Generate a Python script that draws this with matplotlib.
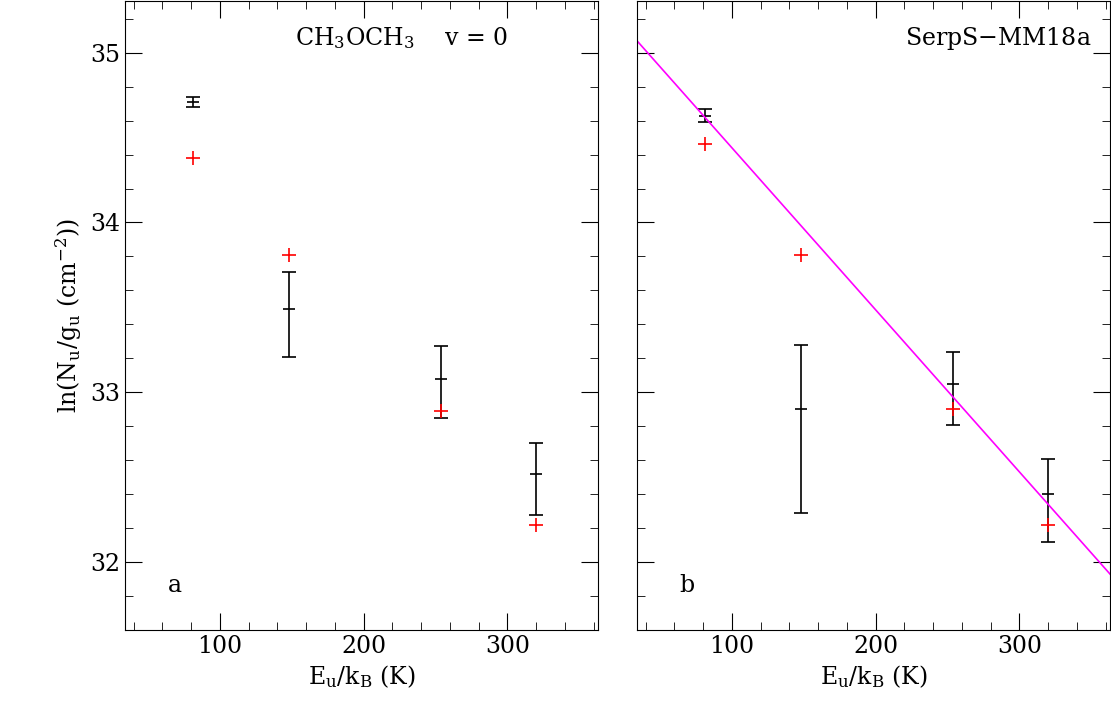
import matplotlib
matplotlib.use("Agg")
import matplotlib.pyplot as plt
from matplotlib.ticker import MultipleLocator

plt.rcParams['font.family'] = 'DejaVu Serif'
plt.rcParams['mathtext.fontset'] = 'dejavuserif'

# energies (K)
eu = [81, 148, 254, 320]

# panel a
obs_a = [34.71, 33.49, 33.08, 32.52]
lo_a = [34.68, 33.21, 32.85, 32.28]
hi_a = [34.74, 33.71, 33.27, 32.70]
mod_a = [34.38, 33.81, 32.89, 32.22]

# panel b
obs_b = [34.63, 32.90, 33.05, 32.40]
lo_b = [34.59, 32.29, 32.81, 32.12]
hi_b = [34.67, 33.28, 33.24, 32.61]
mod_b = [34.46, 33.81, 32.90, 32.22]

fit_x = [34, 364]
fit_y = [35.07, 31.92]

fig = plt.figure(figsize=(11.11, 7.18), dpi=100)
ax1 = fig.add_axes([125/1111, 88/718, 473/1111, 630/718 - 0.001])
ax2 = fig.add_axes([637/1111, 88/718, 473/1111, 630/718 - 0.001])

def draw(ax, obs, lo, hi, mod, label):
    yerr = [[o - l for o, l in zip(obs, lo)], [h - o for o, h in zip(obs, hi)]]
    ax.errorbar(eu, obs, yerr=yerr, fmt='none', ecolor='black', elinewidth=1.2, capsize=5, capthick=1.2)
    ax.plot(eu, obs, linestyle='none', marker='_', color='black', markersize=8, mew=1.2)
    ax.plot(mod, linestyle='none') if False else None
    ax.plot(eu, mod, linestyle='none', marker='+', color='red', markersize=10, mew=1.2)
    ax.set_xlim(34, 363)
    ax.set_ylim(31.6, 35.306)
    ax.xaxis.set_major_locator(MultipleLocator(100))
    ax.xaxis.set_minor_locator(MultipleLocator(20))
    ax.yaxis.set_major_locator(MultipleLocator(1))
    ax.yaxis.set_minor_locator(MultipleLocator(0.2))
    ax.tick_params(which='both', direction='in', top=True, right=True, labelsize=17)
    ax.tick_params(which='major', length=12)
    ax.tick_params(which='minor', length=6)
    ax.set_xlabel(r'E$_\mathrm{u}$/k$_\mathrm{B}$ (K)', fontsize=17)
    ax.text(0.09, 0.06, label, transform=ax.transAxes, fontsize=17)

draw(ax1, obs_a, lo_a, hi_a, mod_a, 'a')
draw(ax2, obs_b, lo_b, hi_b, mod_b, 'b')
ax2.plot(fit_x, fit_y, color='magenta', lw=1.2)
ax2.set_yticklabels([])

ax1.set_ylabel(r'ln(N$_\mathrm{u}$/g$_\mathrm{u}$ (cm$^{-2}$))', fontsize=17)
ax1.text(0.36, 0.93, r'CH$_3$OCH$_3$    v = 0', transform=ax1.transAxes, fontsize=17)
ax2.text(0.96, 0.93, 'SerpS$-$MM18a', transform=ax2.transAxes, fontsize=17, ha='right')

fig.savefig('out.png', dpi=100)
